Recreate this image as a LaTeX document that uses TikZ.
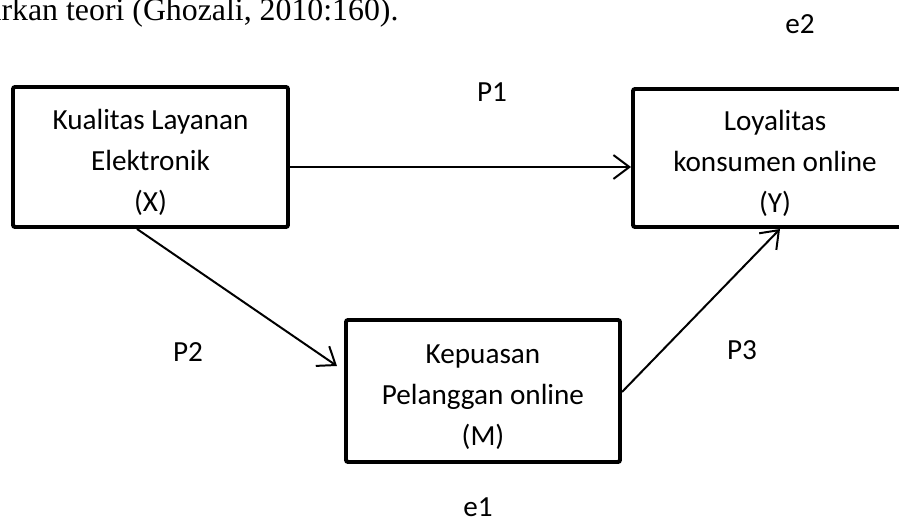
\documentclass[tikz,border=0pt]{standalone}
\usepackage{fontspec}
\setmainfont{Carlito}
\newfontfamily\timesfont{Liberation Serif}
\usetikzlibrary{arrows.meta}

\newcommand\pix{0.377pt}

\tikzset{
    kasten/.style={draw, line width=1.5pt, rounded corners=0.8pt, inner sep=0pt,
        align=center, text height=41pt, text depth=-1pt, font=\fontsize{11}{15.5}\selectfont},
    pfeil/.style={line width=0.75pt, -{Straight Barb[length=6pt,width=9pt,line width=0.75pt]}},
    marke/.style={font=\fontsize{11}{13}\selectfont}
}

\begin{document}
\begin{tikzpicture}[x=\pix,y=-\pix]
                  \useasboundingbox (0,0) rectangle (899,521);

                  % Textzeile oben
                  \node[anchor=base east, inner sep=0pt, font=\timesfont\fontsize{12}{14}\selectfont] (quelle) at (399,21) {arkan teori (Ghozali, 2010:160).};

                  % Variablen
                  \node[kasten, minimum width=275*\pix, minimum height=140*\pix] (X) at (150.5,157) {Kualitas Layanan\\Elektronik\\(X)};
                  \node[kasten, minimum width=284*\pix, minimum height=138*\pix] (Y) at (775,158) {Loyalitas\\konsumen online\\(Y)};
                  \node[kasten, minimum width=274*\pix, minimum height=142*\pix] (M) at (483,391) {Kepuasan\\Pelanggan online\\(M)};

                  % Pfade
                  \coordinate (m-ein) at (337,366);
                  \draw[pfeil] (X.east |- 0,167) -- (Y.west |- 0,167);
                  \draw[pfeil] (X.south -| 137,0) -- (m-ein);
                  \draw[pfeil] (M.east |- 0,392) -- (Y.south -| 780,0);

                  % Beschriftungen
                  \node[marke] (p1) at (492,92) {P1};
                  \node[marke] (p2) at (188,352) {P2};
                  \node[marke] (p3) at (742,350) {P3};
                  \node[marke] (e1) at (478,507) {e1};
                  \node[marke] (e2) at (800,24) {e2};
              \end{tikzpicture}
\end{document}
